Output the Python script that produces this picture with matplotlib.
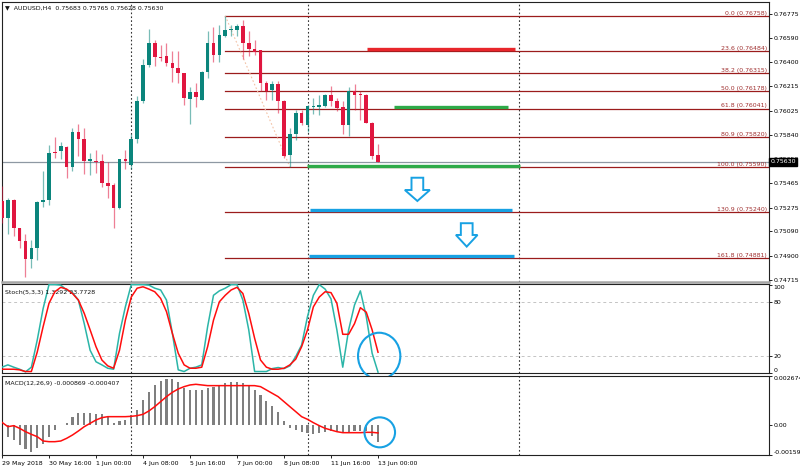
import matplotlib.pyplot as plt
import matplotlib.patches as mpatches
from matplotlib.transforms import blended_transform_factory

# AUDUSD H4 candles (oldest -> newest)
opens = [0.75328, 0.75193, 0.75330, 0.75115, 0.75016, 0.74879, 0.74959, 0.75322, 0.75330, 0.75704,
         0.75712, 0.75743, 0.75592, 0.75862, 0.75803, 0.75637, 0.75639, 0.75634, 0.75468, 0.75447,
         0.75270, 0.75647, 0.75603, 0.75803, 0.76101, 0.76382, 0.76545, 0.76439, 0.76444, 0.76395,
         0.76356, 0.76314, 0.76114, 0.76166, 0.76109, 0.76322, 0.76550, 0.76457, 0.76600, 0.76652,
         0.76652, 0.76680, 0.76550, 0.76504, 0.76491, 0.76239, 0.76187, 0.76231, 0.76101, 0.75681,
         0.75842, 0.76008, 0.75912, 0.76057, 0.76057, 0.76062, 0.76145, 0.76101, 0.76057, 0.75914,
         0.76179, 0.76156, 0.76145, 0.75932, 0.75683]
highs = [0.75439, 0.75348, 0.75343, 0.75118, 0.75073, 0.75026, 0.75328, 0.75561, 0.75756, 0.75823,
         0.75782, 0.75751, 0.75888, 0.75919, 0.75888, 0.75694, 0.75720, 0.75686, 0.75631, 0.75465,
         0.75652, 0.75717, 0.75842, 0.76140, 0.76421, 0.76659, 0.76574, 0.76530, 0.76550, 0.76483,
         0.76483, 0.76319, 0.76205, 0.76236, 0.76335, 0.76639, 0.76672, 0.76685, 0.76758, 0.76685,
         0.76698, 0.76724, 0.76639, 0.76574, 0.76496, 0.76257, 0.76257, 0.76252, 0.76106, 0.75888,
         0.76028, 0.76028, 0.76067, 0.76122, 0.76148, 0.76153, 0.76218, 0.76122, 0.76101, 0.76210,
         0.76231, 0.76179, 0.76153, 0.75937, 0.75765]
lows = [0.75154, 0.75071, 0.75055, 0.74959, 0.74738, 0.74808, 0.74866, 0.75276, 0.75296, 0.75660,
        0.75652, 0.75504, 0.75561, 0.75673, 0.75533, 0.75527, 0.75543, 0.75431, 0.75348, 0.75115,
        0.75265, 0.75574, 0.75574, 0.75777, 0.76083, 0.76361, 0.76369, 0.76413, 0.76374, 0.76244,
        0.76236, 0.76065, 0.75925, 0.76057, 0.76106, 0.76275, 0.76405, 0.76405, 0.76594, 0.76600,
        0.76600, 0.76426, 0.76446, 0.76452, 0.76179, 0.76109, 0.76109, 0.76010, 0.75660, 0.75590,
        0.75795, 0.75914, 0.75862, 0.75997, 0.75990, 0.76057, 0.76062, 0.76023, 0.75842, 0.75829,
        0.76031, 0.75953, 0.75927, 0.75647, 0.75628]
closes = [0.75193, 0.75330, 0.75115, 0.75016, 0.74879, 0.74959, 0.75322, 0.75330, 0.75701, 0.75696,
          0.75751, 0.75592, 0.75862, 0.75803, 0.75634, 0.75652, 0.75629, 0.75465, 0.75442, 0.75270,
          0.75647, 0.75639, 0.75803, 0.76101, 0.76382, 0.76550, 0.76439, 0.76431, 0.76392, 0.76353,
          0.76314, 0.76122, 0.76166, 0.76132, 0.76327, 0.76550, 0.76457, 0.76613, 0.76650, 0.76659,
          0.76680, 0.76550, 0.76504, 0.76478, 0.76239, 0.76179, 0.76231, 0.76101, 0.75673, 0.75842,
          0.76008, 0.75927, 0.76062, 0.76062, 0.76067, 0.76145, 0.76096, 0.76049, 0.75914, 0.76179,
          0.76148, 0.76145, 0.75932, 0.75673, 0.75630]

time_labels = ['29 May 2018', '30 May 16:00', '1 Jun 00:00', '4 Jun 08:00', '5 Jun 16:00',
               '7 Jun 00:00', '8 Jun 08:00', '11 Jun 16:00', '13 Jun 00:00']
price_ticks = [0.76775, 0.76590, 0.76400, 0.76215, 0.76025, 0.75840, 0.75650,
               0.75465, 0.75275, 0.75090, 0.74900, 0.74715]
last_price = 0.75630

fib_levels = ['0.0', '23.6', '38.2', '50.0', '61.8', '80.9', '100.0', '130.9', '161.8']
fib_prices = [0.76758, 0.76484, 0.76315, 0.76178, 0.76041, 0.75820, 0.75590, 0.75240, 0.74881]
fib_start, fib_end = 38, 49

# Stochastic(5,3,3): main and signal
stoch_k = [6.9, 9.5, 6.9, 4.6, 1.6, 6.9, 37.6, 73, 100, 100,
           99.5, 94, 91, 82.6, 56, 26, 13, 9.5, 5.7, 4.6,
           45, 75, 100, 100, 100, 99.5, 96, 94, 82.6, 45,
           3.9, 2, 5.7, 6.9, 9.5, 52.6, 88, 93, 96, 100,
           100, 82.6, 49, 2, 2, 2, 5.3, 6.5, 5.3, 8.4,
           18.9, 32, 64, 88, 100, 95, 84, 49, 6.9, 49,
           77, 93, 64, 22.6, 1.33]
stoch_d = [4.6, 4.6, 4.6, 3.9, 2, 2, 24, 52.6, 79, 92,
           97, 95, 90, 82.6, 67.6, 49, 30, 15, 8.4, 5.7,
           26, 60, 86, 96, 97.6, 95, 92, 84.5, 69.5, 45,
           22.6, 9.5, 5.7, 5.7, 6.9, 30, 60, 80.7, 88, 94,
           97, 90, 67.6, 39.5, 15, 6.9, 4.6, 4.6, 5.7, 9.5,
           16, 30, 49, 75, 86, 92, 91, 79, 44, 44,
           56, 74, 69, 49, 23.77]

# MACD(12,26,9): histogram and signal
macd_hist = [-0.000465, -0.000609, -0.000788, -0.001056, -0.001271, -0.001414, -0.001199, -0.001020,
             -0.000609, -0.000251, 0.000018, 0.000143, 0.000465, 0.000644, 0.000644, 0.000644,
             0.000609, 0.000591, 0.000465, 0.000143, 0.000251, 0.000286, 0.000555, 0.000823,
             0.001360, 0.001808, 0.002166, 0.002381, 0.002488, 0.002488, 0.002345, 0.001987,
             0.001897, 0.001897, 0.001897, 0.002023, 0.002076, 0.002166, 0.002255, 0.002345,
             0.002345, 0.002255, 0.002166, 0.001897, 0.001629, 0.001307, 0.001056, 0.000734,
             0.000233, -0.000161, -0.000251, -0.000340, -0.000430, -0.000483, -0.000430, -0.000376,
             -0.000304, -0.000304, -0.000430, -0.000376, -0.000304, -0.000304, -0.000304, -0.000555,
             -0.000869]
macd_signal = [0.000161, -0.000072, -0.000018, -0.000161, -0.000340, -0.000483, -0.000609, -0.000841,
               -0.000877, -0.000877, -0.000841, -0.000698, -0.000519, -0.000304, -0.000072, 0.000107,
               0.000286, 0.000412, 0.000465, 0.000465, 0.000465, 0.000465, 0.000483, 0.000519,
               0.000591, 0.000770, 0.001002, 0.001271, 0.001539, 0.001772, 0.001951, 0.002076,
               0.002166, 0.002202, 0.002166, 0.002130, 0.002130, 0.002130, 0.002130, 0.002130,
               0.002130, 0.002130, 0.002130, 0.002130, 0.002076, 0.001897, 0.001718, 0.001539,
               0.001271, 0.001002, 0.000734, 0.000465, 0.000322, 0.000143, -0.000018, -0.000161,
               -0.000251, -0.000340, -0.000394, -0.000394, -0.000394, -0.000394, -0.000376, -0.000376,
               -0.000407]

BULL = '#0b857c'
BEAR = '#e0163f'
FIB = '#9b1c1c'
BLUE = '#17a1e3'
FS = 4.5
plt.rcParams['font.family'] = 'DejaVu Sans'

W, H = 800, 471
fig = plt.figure(figsize=(W / 100, H / 100), dpi=100)
fig.patch.set_facecolor('white')


def rect(top, bottom):
    return [1.7 / W, 1 - bottom / H, (768.7 - 1.7) / W, (bottom - top) / H]


ax1 = fig.add_axes(rect(1.7, 281.5))
ax2 = fig.add_axes(rect(283.5, 373.3))
ax3 = fig.add_axes(rect(375.5, 455))
n = len(closes)
xs = list(range(n))

for ax in (ax1, ax2, ax3):
    ax.set_xlim(-0.05, 130.5)
    ax.yaxis.tick_right()
    ax.tick_params(axis='y', length=2, width=0.6, pad=1.5, labelsize=FS, direction='out')
    ax.tick_params(axis='x', length=2, width=0.6, pad=2, labelsize=FS, direction='out')
    for s in ax.spines.values():
        s.set_color('#222222')
        s.set_linewidth(0.8)
    # period separators
    for vx in (22, 52, 88):
        ax.axvline(vx, color='#333333', lw=0.8, ls=(0, (1.5, 2)), zorder=1)

ax1.set_xticks([])
ax2.set_xticks([])
ax1.spines['bottom'].set_color('#a6a6a6')
ax1.spines['bottom'].set_linewidth(1.8)

# ---- price panel ----
ax1.set_ylim(0.74703, 0.76868)
ax1.set_yticks(price_ticks)
ax1.set_yticklabels(['%.5f' % p for p in price_ticks])

for i in xs:
    o, h, l, c = opens[i], highs[i], lows[i], closes[i]
    col = BULL if c >= o else BEAR
    ax1.vlines(i, l, h, color=col, lw=0.9, alpha=0.55, zorder=3)
    body = max(abs(c - o), 0.00003)
    ax1.bar(i, body, bottom=min(o, c), width=0.62, color=col, lw=0, zorder=4)

tr = blended_transform_factory(ax1.transAxes, ax1.transData)
for lvl, p in zip(fib_levels, fib_prices):
    ax1.plot([fib_start, 130.5], [p, p], color=FIB, lw=0.9, zorder=2)
    ax1.text(0.9975, p + 0.00002, '%s (%.5f)' % (lvl, p), transform=tr, ha='right', va='bottom',
             fontsize=FS, color='#a03030', zorder=5)
ax1.plot([fib_start, fib_end], [fib_prices[0], fib_prices[6]], color='#f3c2a6', lw=0.8,
         ls=(0, (1.5, 2)), zorder=2)

ax1.axhline(last_price, color='#8e98a3', lw=0.9, zorder=2)
ax1.text(1.002, last_price, '%.5f' % last_price, transform=tr, ha='left', va='center', color='white',
         fontsize=FS, zorder=10, clip_on=False,
         bbox=dict(boxstyle='square,pad=0.25', facecolor='black', edgecolor='black'))

# target lines
ax1.plot([62.1, 87.3], [0.76502, 0.76502], color='#e8262b', lw=2.4, solid_capstyle='butt', zorder=6)
ax1.plot([66.8, 86.2], [0.76053, 0.76053], color='#2eaa48', lw=2.4, solid_capstyle='butt', zorder=6)
ax1.plot([51.9, 88.1], [0.75597, 0.75597], color='#2eaa48', lw=2.4, solid_capstyle='butt', zorder=6)
ax1.plot([52.5, 86.8], [0.75254, 0.75254], color=BLUE, lw=2.4, solid_capstyle='butt', zorder=6)
ax1.plot([52.2, 87.2], [0.74901, 0.74901], color=BLUE, lw=2.4, solid_capstyle='butt', zorder=6)


def down_arrow(ax, xc, top, neck, tip, half_head, half_shaft):
    pts = [(xc - half_shaft, top), (xc + half_shaft, top), (xc + half_shaft, neck),
           (xc + half_head, neck), (xc, tip), (xc - half_head, neck), (xc - half_shaft, neck)]
    ax.add_patch(mpatches.Polygon(pts, closed=True, facecolor='white', edgecolor=BLUE,
                                  lw=1.4, zorder=7))


down_arrow(ax1, 70.7, 0.75506, 0.75411, 0.75326, 2.13, 1.0)
down_arrow(ax1, 79.1, 0.75154, 0.75063, 0.74973, 1.84, 1.0)

fig.text(5 / W, 1 - 7.5 / H, '\u25bc  AUDUSD,H4  0.75683 0.75765 0.75628 0.75630',
         fontsize=FS, va='center', ha='left', color='#111111')

# ---- stochastic panel ----
ax2.set_ylim(0, 101.3)
ax2.set_yticks([100, 80, 20, 0])
ax2.set_yticklabels(['100', '80', '20', '0'])
lab = ax2.get_yticklabels()
lab[0].set_va('top')
lab[3].set_va('bottom')
for lv in (80, 20):
    ax2.axhline(lv, color='#c4c4c4', lw=0.7, ls=(0, (3, 3)), zorder=1)
ax2.plot(xs, stoch_k, color='#2bb5a8', lw=1.1, zorder=3)
ax2.plot(xs, stoch_d, color='#ff0d0d', lw=1.1, zorder=4)
ax2.text(0.004, 0.9, 'Stoch(5,3,3) 1.3292 23.7728', transform=ax2.transAxes, fontsize=FS,
         va='center', ha='left', color='#111111')
ax2.add_patch(mpatches.Ellipse((64.2, 19.5), 7.2, 52.5, facecolor='none', edgecolor=BLUE,
                               lw=1.5, clip_on=False, zorder=8))

# ---- MACD panel ----
ax3.set_ylim(-0.001592, 0.002674)
ax3.set_yticks([0.002674, 0.0, -0.001592])
ax3.set_yticklabels(['0.002674', '0.00', '-0.001592'])
lab = ax3.get_yticklabels()
lab[0].set_va('top')
lab[2].set_va('bottom')
ax3.bar(xs, macd_hist, width=0.36, color='#7f7f7f', lw=0, zorder=2)
ax3.plot(xs, macd_signal, color='#ff0d0d', lw=1.1, zorder=3)
ax3.text(0.004, 0.9, 'MACD(12,26,9) -0.000869 -0.000407', transform=ax3.transAxes, fontsize=FS,
         va='center', ha='left', color='#111111')
ax3.add_patch(mpatches.Ellipse((64.3, -0.000376), 5.2, 0.00161, facecolor='none', edgecolor=BLUE,
                               lw=1.5, clip_on=False, zorder=8))
ax3.set_xticks(list(range(0, 65, 8)))
ax3.set_xticklabels(time_labels, ha='left')

fig.savefig('out.png', dpi=100)
